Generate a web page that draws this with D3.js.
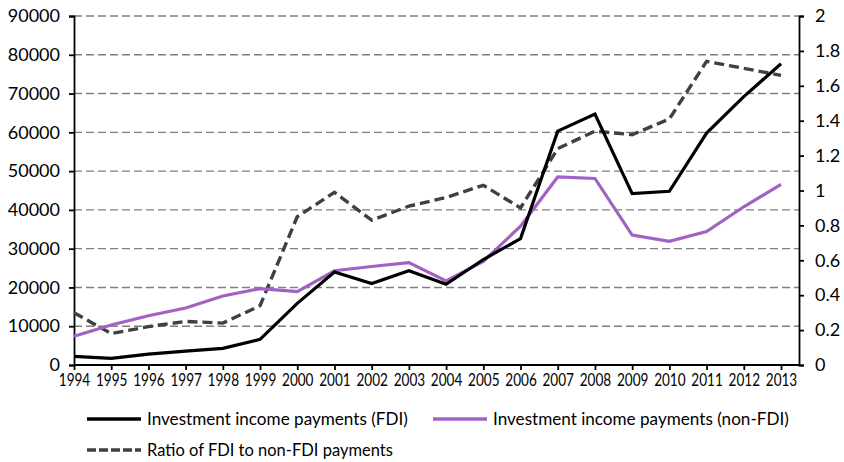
<!DOCTYPE html>
<html><head><meta charset="utf-8">
<script src="https://cdn.jsdelivr.net/npm/d3@7"></script>
<style>
body{margin:0;background:#fff;}
text{font-family:Lato,"Open Sans",sans-serif;fill:#000;}
</style></head>
<body><svg id="c" width="844" height="462"></svg>
<script>
const years = [1994,1995,1996,1997,1998,1999,2000,2001,2002,2003,2004,2005,2006,2007,2008,2009,2010,2011,2012,2013];
const fdi = [2200,1700,2800,3600,4300,6600,15900,24000,21000,24300,20800,27200,32600,60300,64700,44200,44800,59800,69200,77700];
const nonFdi = [7400,10300,12700,14700,17800,19700,18900,24300,25400,26400,21700,26700,35800,48500,48100,33500,31900,34400,40800,46600];
const ratio = [0.30,0.18,0.22,0.25,0.24,0.34,0.85,0.99,0.83,0.91,0.96,1.03,0.90,1.24,1.34,1.32,1.41,1.74,1.70,1.66];
const leftTicks = [0,10000,20000,30000,40000,50000,60000,70000,80000,90000];
const rightTicks = [0,0.2,0.4,0.6,0.8,1,1.2,1.4,1.6,1.8,2];
const seriesNames = ["Investment income payments (FDI)","Investment income payments (non-FDI)","Ratio of FDI to non-FDI payments"];

const svg = d3.select("#c");
const x = d3.scaleLinear().domain([1994,2013]).range([74,781]);
const yL = d3.scaleLinear().domain([0,90000]).range([365,16]);
const yR = d3.scaleLinear().domain([0,2]).range([365,16]);
const xLeft = 74, xRight = 799;

// fit a text horizontally to a target width, anchored at its anchor point
function fitWidth(sel, target, anchorX){
  sel.each(function(){
    const t = d3.select(this);
    const w = this.getComputedTextLength();
    const s = Math.max(0.6, Math.min(1.1, target / w));
    const ax = anchorX != null ? anchorX : (+t.attr("x") || 0);
    t.attr("transform", `translate(${ax},0) scale(${s},1) translate(${-ax},0)`);
  });
}

// gridlines
svg.append("g").selectAll("line").data(leftTicks.filter(d=>d>0)).join("line")
  .attr("x1",xLeft).attr("x2",xRight).attr("y1",d=>yL(d)).attr("y2",d=>yL(d))
  .attr("stroke","#7f7f7f").attr("stroke-width",1.4).attr("stroke-dasharray","8,4");

// left axis
const gL = svg.append("g").attr("transform",`translate(${xLeft},0)`)
  .call(d3.axisLeft(yL).tickValues(leftTicks).tickFormat(d3.format("d")).tickSize(5).tickPadding(9));
gL.selectAll("text").style("font-size","18px");
// right axis
const gR = svg.append("g").attr("transform",`translate(${xRight},0)`)
  .call(d3.axisRight(yR).tickValues(rightTicks).tickFormat(d=>d3.format("")(+d.toFixed(1))).tickSize(5).tickPadding(11));
gR.selectAll("text").style("font-size","18px");
// bottom axis
const gB = svg.append("g").attr("transform",`translate(0,365)`)
  .call(d3.axisBottom(x).tickValues(years).tickFormat(d3.format("d")).tickSize(5).tickPadding(4));
gB.select(".domain").attr("d",`M${xLeft},0H${xRight}`);
gB.selectAll("text").style("font-size","16.5px");
fitWidth(gB.selectAll("text"), 31.5, 0);
[gL,gR,gB].forEach(g=>{g.selectAll(".domain,.tick line").attr("stroke","#000").attr("stroke-width",1.8);});

// lines
const lineL = arr => d3.line().x((d,i)=>x(years[i])).y(d=>yL(d))(arr);
const lineR = arr => d3.line().x((d,i)=>x(years[i])).y(d=>yR(d))(arr);
svg.append("path").attr("d",lineR(ratio)).attr("fill","none").attr("stroke","#404040").attr("stroke-width",3.4).attr("stroke-dasharray","10,5");
svg.append("path").attr("d",lineL(nonFdi)).attr("fill","none").attr("stroke","#a262c4").attr("stroke-width",3.2);
svg.append("path").attr("d",lineL(fdi)).attr("fill","none").attr("stroke","#000").attr("stroke-width",3.2);

// legend
const leg = [
  {x:87,y:419,color:"#000",dash:null,name:seriesNames[0],w:261},
  {x:433,y:419,color:"#a262c4",dash:null,name:seriesNames[1],w:296},
  {x:87,y:450,color:"#404040",dash:"9,3",name:seriesNames[2],w:246}
];
const lg = svg.append("g").selectAll("g").data(leg).join("g");
lg.append("line").attr("x1",d=>d.x).attr("x2",d=>d.x+54).attr("y1",d=>d.y).attr("y2",d=>d.y)
  .attr("stroke",d=>d.color).attr("stroke-width",3.5).attr("stroke-dasharray",d=>d.dash);
lg.append("text").attr("x",d=>d.x+60).attr("y",d=>d.y).attr("dy","0.35em").style("font-size","17.5px")
  .text(d=>d.name)
  .each(function(d){ fitWidth(d3.select(this), d.w); });
</script></body></html>
